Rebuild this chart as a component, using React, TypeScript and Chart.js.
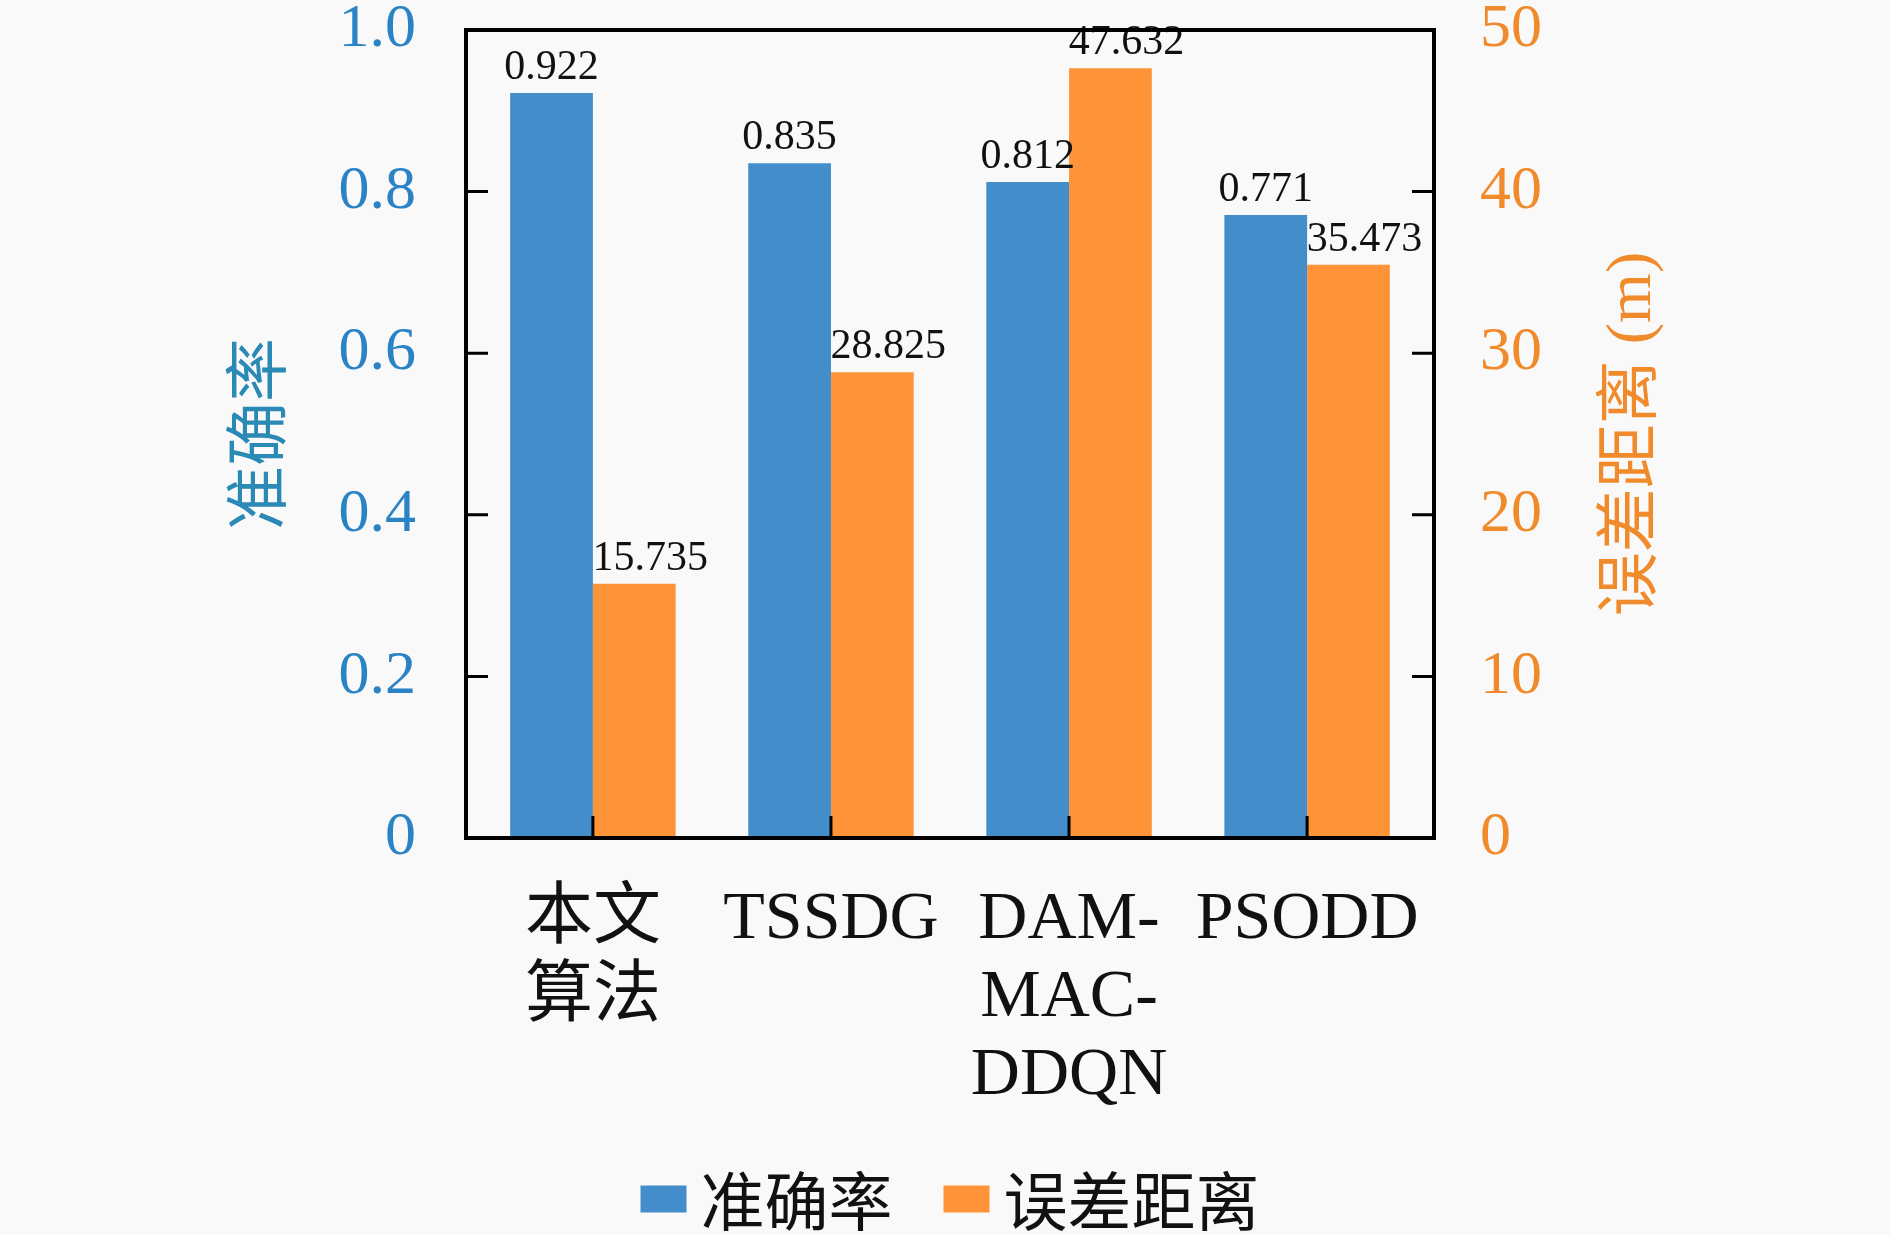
import { useEffect, useRef } from "react";
import { Chart, ChartConfiguration, Plugin, registerables } from "chart.js";
Chart.register(...registerables);

// chart data
const categories: string[][] = [["本文", "算法"], ["TSSDG"], ["DAM-", "MAC-", "DDQN"], ["PSODD"]];
const accuracy = [0.922, 0.835, 0.812, 0.771];
const errorDistance = [15.735, 28.825, 47.632, 35.473];
const seriesNames = ["准确率", "误差距离"];
const leftTicks = [0, 0.2, 0.4, 0.6, 0.8, 1.0];
const rightTicks = [0, 10, 20, 30, 40, 50];
const rightTitle = "误差距离 (m)";

const BLUE = "#428dca";
const ORANGE = "#ff9338";
const SERIF = '"Liberation Serif", "Noto Sans CJK SC", serif';
const TICK_LEN = 22;

// frame, inward tick marks, value labels, right title and legend
const decorations: Plugin<"bar"> = {
  id: "decorations",
  afterDatasetsDraw(chart) {
    const { ctx, chartArea } = chart;
    const { left, right, top, bottom } = chartArea;
    const y = chart.scales.y;
    const y1 = chart.scales.y1;
    const x = chart.scales.x;
    ctx.save();

    // value labels over the bars (orange ones nudged right like the original)
    ctx.font = `42px ${SERIF}`;
    ctx.fillStyle = "#111";
    ctx.textAlign = "center";
    ctx.textBaseline = "bottom";
    chart.data.datasets.forEach((ds, di) => {
      const shift = di === 1 ? 16 : 0;
      chart.getDatasetMeta(di).data.forEach((bar: any, i) => {
        const v = (ds.data[i] as any).y as number;
        ctx.fillText(v.toFixed(3), bar.x + shift, bar.y - 4);
      });
    });

    // tick marks pointing into the plot
    ctx.strokeStyle = "#000";
    ctx.lineWidth = 3;
    ctx.beginPath();
    leftTicks.forEach((t) => {
      const py = y.getPixelForValue(t);
      ctx.moveTo(left, py);
      ctx.lineTo(left + TICK_LEN, py);
    });
    rightTicks.forEach((t) => {
      const py = y1.getPixelForValue(t);
      ctx.moveTo(right, py);
      ctx.lineTo(right - TICK_LEN, py);
    });
    categories.forEach((_, i) => {
      const px = x.getPixelForValue(i);
      ctx.moveTo(px, bottom);
      ctx.lineTo(px, bottom - TICK_LEN);
    });
    ctx.stroke();

    // frame
    ctx.lineWidth = 4;
    ctx.strokeRect(left, top, right - left, bottom - top);

    // right axis title, reading bottom to top
    ctx.save();
    ctx.translate(right + 199, (top + bottom) / 2);
    ctx.rotate(-Math.PI / 2);
    ctx.font = `64px ${SERIF}`;
    ctx.fillStyle = "#f08a2a";
    ctx.textAlign = "center";
    ctx.textBaseline = "middle";
    ctx.fillText(rightTitle, 0, 0);
    ctx.restore();

    // legend
    ctx.font = `64px "Noto Sans CJK SC", sans-serif`;
    ctx.textAlign = "left";
    ctx.textBaseline = "middle";
    const boxW = 46;
    const boxH = 27;
    const gap = 14;
    const itemGap = 51;
    const widths = seriesNames.map((n) => boxW + gap + ctx.measureText(n).width);
    const total = widths.reduce((a, b) => a + b, 0) + itemGap * (widths.length - 1);
    let lx = (left + right) / 2 - total / 2;
    const ly = 1199;
    seriesNames.forEach((n, i) => {
      ctx.fillStyle = i === 0 ? BLUE : ORANGE;
      ctx.fillRect(lx, ly - boxH / 2, boxW, boxH);
      ctx.fillStyle = "#111";
      ctx.fillText(n, lx + boxW + gap, ly + 2);
      lx += widths[i] + itemGap;
    });

    ctx.restore();
  },
};

// fixed axis sizes; drop the label overflow padding so the plot frame sits where it should
const fixSize = (w: number | null, h: number | null) => (axis: any) => {
  if (w !== null) axis.width = w;
  if (h !== null) axis.height = h;
  axis.paddingTop = 0;
  axis.paddingBottom = 0;
  axis.paddingLeft = 0;
  axis.paddingRight = 0;
};

export default function App() {
  const canvasRef = useRef<HTMLCanvasElement | null>(null);
  const chartRef = useRef<Chart<"bar"> | null>(null);

  useEffect(() => {
    document.body.style.margin = "0";
    document.body.style.background = "#f9f9f9";

    const config: ChartConfiguration<"bar"> = {
      type: "bar",
      data: {
        datasets: [
          {
            label: seriesNames[0],
            data: accuracy.map((v, i) => ({ x: i, y: v })) as any,
            backgroundColor: BLUE,
            yAxisID: "y",
            categoryPercentage: 0.695,
            barPercentage: 1,
          },
          {
            label: seriesNames[1],
            data: errorDistance.map((v, i) => ({ x: i, y: v })) as any,
            backgroundColor: ORANGE,
            yAxisID: "y1",
            categoryPercentage: 0.695,
            barPercentage: 1,
          },
        ],
      },
      options: {
        responsive: true,
        maintainAspectRatio: false,
        animation: false,
        layout: { padding: { top: 30, left: 0, right: 0, bottom: 0 } },
        plugins: {
          legend: { display: false },
          tooltip: { enabled: false },
        },
        scales: {
          x: {
            type: "linear",
            position: "bottom",
            offset: false,
            min: -0.533,
            max: categories.length - 1 + 0.533,
            grid: { display: false, drawTicks: false },
            border: { display: false },
            afterBuildTicks: (axis: any) => {
              axis.ticks = categories.map((_, i) => ({ value: i }));
            },
            afterFit: fixSize(null, 397),
            ticks: {
              autoSkip: false,
              maxRotation: 0,
              padding: 43,
              color: "#111",
              font: { family: SERIF, size: 68, lineHeight: 1.15 },
              callback: (v: any) => categories[v as number],
            },
          },
          y: {
            type: "linear",
            position: "left",
            min: 0,
            max: 1,
            grid: { display: false, drawTicks: false },
            border: { display: false },
            afterFit: fixSize(466, null),
            ticks: {
              stepSize: 0.2,
              padding: 50,
              color: "#2a83c4",
              font: { family: SERIF, size: 62 },
              callback: (v: any) => (v === 0 ? "0" : Number(v).toFixed(1)),
            },
            title: {
              display: true,
              text: "准确率",
              color: "#2b8ab5",
              font: { family: SERIF, size: 64, lineHeight: 1.2 },
              padding: { top: 225, bottom: 0 },
            },
          },
          y1: {
            type: "linear",
            position: "right",
            min: 0,
            max: 50,
            grid: { display: false, drawTicks: false },
            border: { display: false },
            afterFit: fixSize(456, null),
            ticks: {
              stepSize: 10,
              padding: 46,
              color: "#f08a2a",
              font: { family: SERIF, size: 62 },
            },
          },
        },
      },
      plugins: [decorations],
    };

    if (canvasRef.current) {
      chartRef.current = new Chart(canvasRef.current, config);
    }
    return () => {
      if (chartRef.current) {
        chartRef.current.destroy();
      }
    };
  }, []);

  return (
    <div style={{ width: "1890px", height: "1235px", position: "relative", background: "#f9f9f9" }}>
      <canvas ref={canvasRef} />
    </div>
  );
}
